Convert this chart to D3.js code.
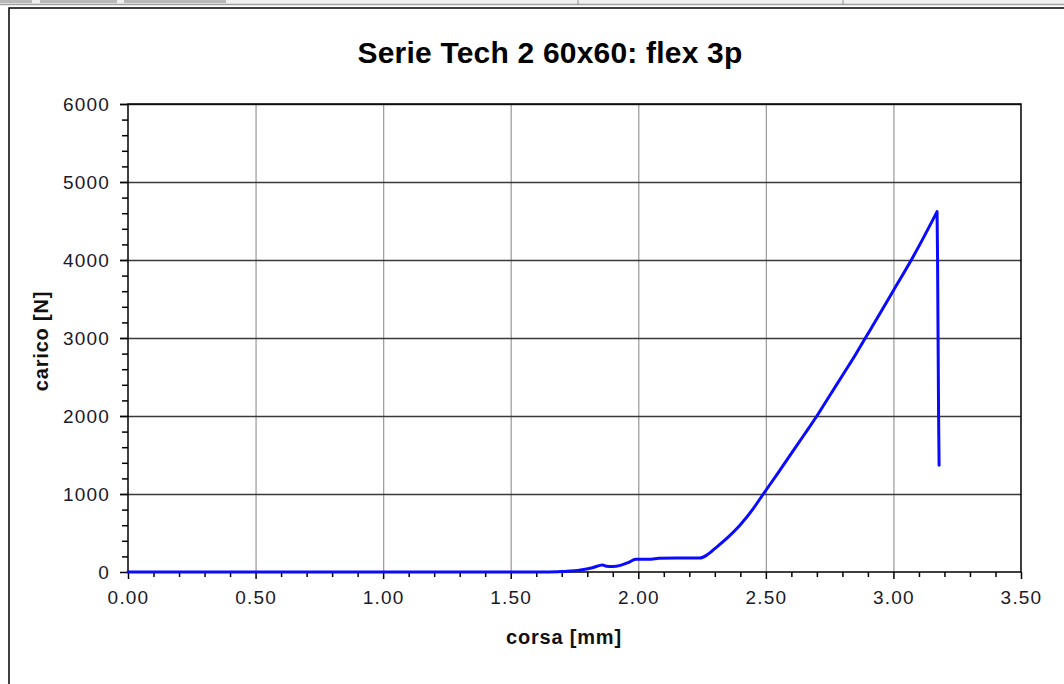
<!DOCTYPE html>
<html>
<head>
<meta charset="utf-8">
<script src="https://cdn.jsdelivr.net/npm/d3@7/dist/d3.min.js"></script>
<style>
  html, body { margin: 0; padding: 0; background: #fff; }
  svg { display: block; }
  text { font-family: "Liberation Sans", Arial, sans-serif; }
</style>
</head>
<body>
<svg id="chart" width="1064" height="684"></svg>
<script>
// ---- data ----
const titleText = "Serie Tech 2 60x60: flex 3p";
const xLabel = "corsa  [mm]";
const yLabel = "carico [N]";
const xTicks = [0, 0.5, 1.0, 1.5, 2.0, 2.5, 3.0, 3.5];
const yTicks = [0, 1000, 2000, 3000, 4000, 5000, 6000];
const corsa = [0, 0.5, 1.0, 1.5, 1.65, 1.70, 1.75, 1.78, 1.82, 1.86, 1.875, 1.90, 1.93, 1.96, 1.99, 2.05, 2.08, 2.15, 2.24, 2.27, 2.30, 2.35, 2.40, 2.45, 2.49, 2.55, 2.60, 2.65, 2.70, 2.75, 2.80, 2.85, 2.89, 2.95, 3.00, 3.07, 3.12, 3.171, 3.173, 3.175, 3.177, 3.179];
const carico = [0, 0, 0, 0, 0, 5, 15, 30, 55, 90, 75, 70, 85, 120, 163, 163, 175, 178, 178, 220, 300, 440, 605, 810, 1000, 1280, 1520, 1760, 2000, 2260, 2520, 2780, 3000, 3330, 3610, 4000, 4300, 4620, 4000, 3000, 2000, 1370];
const peakIndex = 37; // index of the maximum load (split between loading and rupture)

// ---- layout ----
const svg = d3.select("#chart");
const L = 128, R = 1021, T = 104, B = 572;
const x = d3.scaleLinear().domain([0, 3.5]).range([L, R]);
const y = d3.scaleLinear().domain([0, 6000]).range([B, T]);

// top window strip
svg.append("rect").attr("x", 0).attr("y", 0).attr("width", 1064).attr("height", 5).attr("fill", "#f0f0f0");
[[0, 32], [40, 117], [124, 226]].forEach(([a, b]) => {
  svg.append("rect").attr("x", a).attr("y", 0).attr("width", b - a).attr("height", 3).attr("fill", "#b8b8b8");
});
svg.append("line").attr("x1", 0).attr("x2", 1064).attr("y1", 4.5).attr("y2", 4.5).attr("stroke", "#a0a0a0").attr("stroke-width", 1.5);
[578, 843].forEach(px => svg.append("line").attr("x1", px).attr("x2", px).attr("y1", 0).attr("y2", 5).attr("stroke", "#909090"));
// outer frame
svg.append("rect").attr("x", 9).attr("y", 8).attr("width", 1070).attr("height", 690)
  .attr("fill", "none").attr("stroke", "#000").attr("stroke-width", 1.5);

// gridlines
svg.append("g").attr("transform", `translate(0,${B})`)
  .call(d3.axisBottom(x).tickValues(xTicks.slice(1, -1)).tickSize(-(B - T)).tickFormat(""))
  .call(g => g.select(".domain").remove())
  .call(g => g.selectAll("line").attr("stroke", "#a0a0a0").attr("stroke-width", 1.3));
svg.append("g").attr("transform", `translate(${L - 8},0)`)
  .call(d3.axisRight(y).tickValues(yTicks.slice(1)).tickSize(R - L + 8).tickFormat(""))
  .call(g => g.select(".domain").remove())
  .call(g => g.selectAll("line").attr("stroke", "#3a3a3a").attr("stroke-width", 1.5));

// minor ticks
const xMinor = d3.range(0, 35).map(i => i / 10).filter(v => Math.abs(v * 2 - Math.round(v * 2)) > 1e-6);
svg.append("g").attr("transform", `translate(0,${B})`)
  .call(d3.axisBottom(x).tickValues(xMinor).tickSize(5).tickFormat(""))
  .call(g => g.select(".domain").remove())
  .call(g => g.selectAll("line").attr("stroke", "#000").attr("stroke-width", 1.5));
const yMinor = d3.range(0, 30).map(i => i * 200).filter(v => v % 1000 !== 0);
svg.append("g").attr("transform", `translate(${L},0)`)
  .call(d3.axisLeft(y).tickValues(yMinor).tickSize(6).tickFormat(""))
  .call(g => g.select(".domain").remove())
  .call(g => g.selectAll("line").attr("stroke", "#000").attr("stroke-width", 1.5));

// plot frame
svg.append("rect").attr("x", L).attr("y", T).attr("width", R - L).attr("height", B - T)
  .attr("fill", "none").attr("stroke", "#000").attr("stroke-width", 1.5);

// major axes
const xAxis = svg.append("g").attr("transform", `translate(0,${B})`)
  .call(d3.axisBottom(x).tickValues(xTicks).tickSize(7).tickPadding(12).tickFormat(d3.format(".2f")));
xAxis.select(".domain").remove();
xAxis.selectAll("line").attr("stroke", "#000").attr("stroke-width", 1.5);
xAxis.selectAll("text").attr("fill", "#1a1a2a").style("font-size", "19px").style("letter-spacing", "1.2px")
  .style("font-family", '"Liberation Sans", Arial, sans-serif');

const yAxis = svg.append("g").attr("transform", `translate(${L},0)`)
  .call(d3.axisLeft(y).tickValues(yTicks).tickSize(8).tickPadding(10).tickFormat(d3.format("d")));
yAxis.select(".domain").remove();
yAxis.selectAll("line").attr("stroke", "#000").attr("stroke-width", 1.5);
yAxis.selectAll("text").attr("fill", "#1a1a2a").style("font-size", "19px").style("letter-spacing", "1.2px")
  .style("font-family", '"Liberation Sans", Arial, sans-serif');

// curve: smooth loading branch + straight rupture branch
const idx = d3.range(corsa.length);
const loading = idx.slice(0, peakIndex + 1);
const rupture = idx.slice(peakIndex);
const lineSmooth = d3.line().x(i => x(corsa[i])).y(i => y(carico[i])).curve(d3.curveMonotoneX);
const lineStraight = d3.line().x(i => x(corsa[i])).y(i => y(carico[i]));
svg.append("path")
  .attr("d", lineSmooth(loading) + lineStraight(rupture).replace(/^M[^L]*/, ""))
  .attr("fill", "none").attr("stroke", "#0a0aff").attr("stroke-width", 3)
  .attr("stroke-linejoin", "round").attr("stroke-linecap", "round");

// title and labels
svg.append("text").attr("x", 550).attr("y", 63).attr("text-anchor", "middle")
  .style("font-size", "30px").style("font-weight", "bold").style("letter-spacing", "0.2px")
  .attr("fill", "#000").text(titleText);
svg.append("text").attr("x", 564).attr("y", 644).attr("text-anchor", "middle")
  .style("font-size", "20px").style("font-weight", "bold").style("letter-spacing", "0.8px")
  .attr("fill", "#111").text(xLabel);
svg.append("text").attr("transform", "translate(48,341) rotate(-90)").attr("text-anchor", "middle")
  .style("font-size", "20px").style("font-weight", "bold").style("letter-spacing", "0.8px")
  .attr("fill", "#111").text(yLabel);
</script>
</body>
</html>
